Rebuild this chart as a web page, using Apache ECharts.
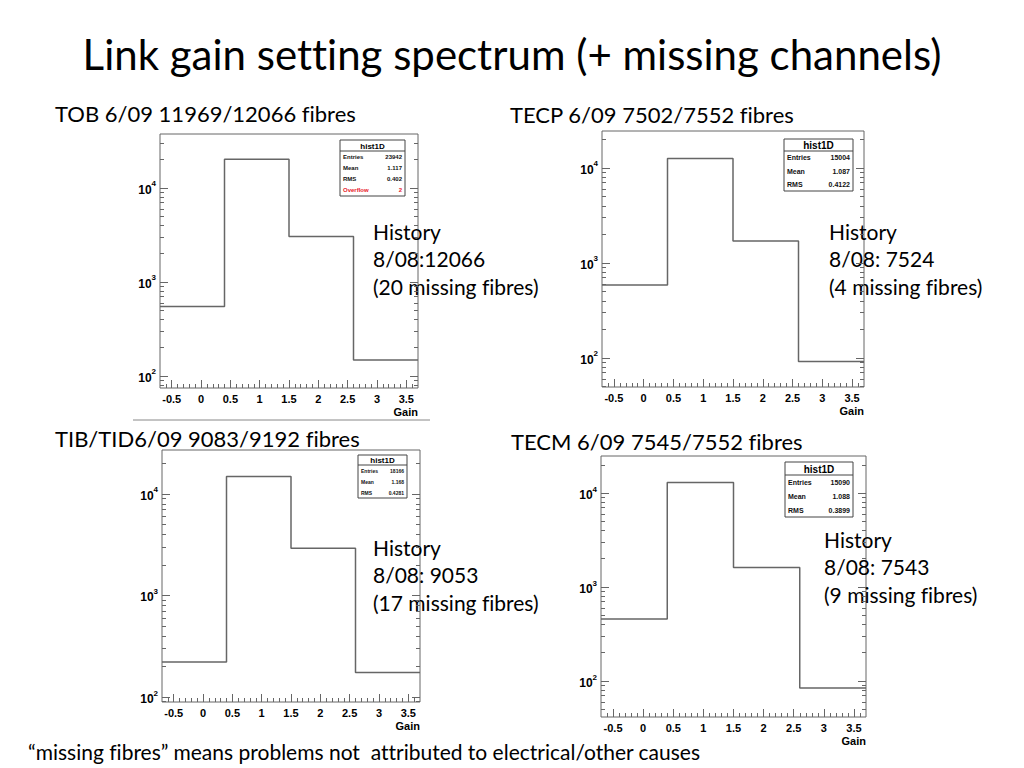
<!DOCTYPE html>
<html>
<head>
<meta charset="utf-8">
<title>Link gain setting spectrum</title>
<script src="https://cdn.jsdelivr.net/npm/echarts@6/dist/echarts.min.js"></script>
<style>
  html, body { margin: 0; padding: 0; background: #fff; }
  #chart { width: 1024px; height: 768px; font-variant-ligatures: none; }
  #chart text { font-variant-ligatures: none; }
</style>
</head>
<body>
<div id="chart"></div>
<script>
// histogram binning (Gain), last entry closes the last bin
var binEdges = [-0.7, 0.4, 1.5, 2.6, 3.7];
var gainLabels = [-0.5, 0, 0.5, 1, 1.5, 2, 2.5, 3, 3.5];
var decadeTicks = [100, 1000, 10000];

// counts per bin
var countsTOB = [550, 20190, 3055, 148];
var countsTECP = [588, 12616, 1708, 92];
var countsTIB = [221, 14846, 2925, 174];
var countsTECM = [458, 12931, 1617, 84];

var statsTOB = [['Entries', '23942'], ['Mean', '1.117'], ['RMS', '0.402'], ['Overflow', '2']];
var statsTECP = [['Entries', '15004'], ['Mean', '1.087'], ['RMS', '0.4122']];
var statsTIB = [['Entries', '18166'], ['Mean', '1.168'], ['RMS', '0.4281']];
var statsTECM = [['Entries', '15090'], ['Mean', '1.088'], ['RMS', '0.3899']];

var historyTOB = ['History', '8/08:12066', '(20 missing fibres)'];
var historyTECP = ['History', '8/08: 7524', '(4 missing fibres)'];
var historyTIB = ['History', '8/08: 9053', '(17 missing fibres)'];
var historyTECM = ['History', '8/08: 7543', '(9 missing fibres)'];

var slideTitle = 'Link gain setting spectrum (+ missing channels)';
var footNote = '\u201cmissing fibres\u201d means problems not  attributed to electrical/other causes';

// layout of the four pads
var pads = [
  { label: 'TOB 6/09 11969/12066 fibres', lx: 55, ly: 113, counts: countsTOB, stats: statsTOB, history: historyTOB,
    grid: { left: 160, top: 134, width: 258, height: 254 }, ymin: 74.5, ymax: 37500,
    hx: 373, hy: 231, box: { x: 340, y: 140, w: 65, h: 56, head: 11, hf: 8, rf: 6 } },
  { label: 'TECP 6/09 7502/7552 fibres', lx: 510, ly: 114, counts: countsTECP, stats: statsTECP, history: historyTECP,
    grid: { left: 602, top: 131, width: 262, height: 256 }, ymin: 49.5, ymax: 24500,
    hx: 829, hy: 231, box: { x: 784, y: 139, w: 69, h: 52, head: 12, hf: 10, rf: 7 } },
  { label: 'TIB/TID6/09 9083/9192 fibres', lx: 55, ly: 438, counts: countsTIB, stats: statsTIB, history: historyTIB,
    grid: { left: 162, top: 450, width: 258, height: 252 }, ymin: 89.3, ymax: 27100,
    hx: 373, hy: 547, box: { x: 358, y: 455, w: 49, h: 43, head: 10, hf: 8, rf: 5 } },
  { label: 'TECM 6/09 7545/7552 fibres', lx: 511, ly: 441, counts: countsTECM, stats: statsTECM, history: historyTECM,
    grid: { left: 601, top: 456, width: 265, height: 261 }, ymin: 41.4, ymax: 24800,
    hx: 824, hy: 539, box: { x: 785, y: 462, w: 68, h: 55, head: 13, hf: 10, rf: 7 } }
];

var frameColor = '#666';
var axisFont = 'Liberation Sans, Arial, sans-serif';
var slideFont = 'Lato, "Open Sans", sans-serif';

function minorGainTicks() {
  var out = [];
  for (var i = -6; i <= 36; i++) out.push(Math.round(i * 10) / 100);
  return out;
}
function minorLogTicks(lo, hi) {
  var out = [];
  for (var p = 10; p <= 100000; p *= 10) {
    for (var m = 2; m <= 9; m++) {
      var v = m * p;
      if (v > lo && v < hi) out.push(v);
    }
  }
  return out;
}
function powLabel(v) {
  return '{b|10}{s|' + Math.round(Math.log10(v)) + '}';
}

var grids = [], xAxes = [], yAxes = [], series = [], graphics = [];

pads.forEach(function (p, k) {
  grids.push({
    left: p.grid.left, top: p.grid.top, width: p.grid.width, height: p.grid.height,
    show: true, backgroundColor: '#fff', borderColor: frameColor, borderWidth: 1, containLabel: false
  });

  var xBase = { type: 'value', gridIndex: k, min: -0.7, max: 3.7, position: 'bottom',
    axisLine: { show: false, onZero: false }, splitLine: { show: false } };
  xAxes.push(Object.assign({}, xBase, {
    name: 'Gain', nameLocation: 'end', nameGap: 0,
    nameTextStyle: { align: 'right', verticalAlign: 'top', padding: [18, 0, 0, 0],
      fontFamily: axisFont, fontWeight: 'bold', fontSize: 11, color: '#000' },
    axisTick: { inside: true, length: 8, customValues: gainLabels, lineStyle: { color: frameColor } },
    axisLabel: { customValues: gainLabels, margin: 5, fontFamily: axisFont, fontWeight: 'bold',
      fontSize: 11, color: '#000' }
  }));
  xAxes.push(Object.assign({}, xBase, {
    axisTick: { inside: true, length: 4, customValues: minorGainTicks(), lineStyle: { color: frameColor } },
    axisLabel: { show: false }
  }));

  var minors = minorLogTicks(p.ymin, p.ymax);
  ['left', 'right'].forEach(function (side) {
    var yBase = { type: 'log', logBase: 10, gridIndex: k, min: p.ymin, max: p.ymax, position: side,
      axisLine: { show: false, onZero: false }, splitLine: { show: false } };
    yAxes.push(Object.assign({}, yBase, {
      axisTick: { inside: true, length: 8, customValues: decadeTicks, lineStyle: { color: frameColor } },
      axisLabel: side === 'left' ? {
        customValues: decadeTicks, margin: 4, formatter: powLabel,
        rich: {
          b: { fontFamily: axisFont, fontWeight: 'bold', fontSize: 12, color: '#000', lineHeight: 16, verticalAlign: 'bottom' },
          s: { fontFamily: axisFont, fontWeight: 'bold', fontSize: 8, color: '#000', lineHeight: 16, verticalAlign: 'top' }
        }
      } : { show: false }
    }));
    yAxes.push(Object.assign({}, yBase, {
      axisTick: { inside: true, length: 4, customValues: minors, lineStyle: { color: frameColor } },
      axisLabel: { show: false }
    }));
  });

  var pts = binEdges.map(function (e, i) {
    return [e, p.counts[Math.min(i, p.counts.length - 1)]];
  });
  series.push({
    type: 'line', step: 'end', xAxisIndex: k * 2, yAxisIndex: k * 4, data: pts,
    symbol: 'none', silent: true, lineStyle: { color: frameColor, width: 1.5 }
  });

  // pad caption
  graphics.push({ type: 'text', x: p.lx, y: p.ly, style: { text: p.label, fontFamily: slideFont,
    fontSize: 22, fill: '#000', verticalAlign: 'middle' } });
  // history note
  p.history.forEach(function (line, i) {
    graphics.push({ type: 'text', x: p.hx, y: p.hy + i * 27.5, style: { text: line, fontFamily: slideFont,
      fontSize: 21, fill: '#000', verticalAlign: 'middle' } });
  });

  // stats box
  var b = p.box;
  var kids = [
    { type: 'rect', shape: { x: 0, y: 0, width: b.w, height: b.h }, style: { fill: '#fff', stroke: '#444', lineWidth: 1 } },
    { type: 'line', shape: { x1: 0, y1: b.head, x2: b.w, y2: b.head }, style: { stroke: '#444', lineWidth: 1 } },
    { type: 'text', x: b.w / 2, y: b.head / 2 + 0.5, style: { text: 'hist1D', fontFamily: axisFont, fontWeight: 'bold',
      fontSize: b.hf, fill: '#000', align: 'center', verticalAlign: 'middle' } }
  ];
  var rowH = (b.h - b.head) / p.stats.length;
  p.stats.forEach(function (row, i) {
    var col = row[0] === 'Overflow' ? '#e8202a' : '#111';
    var yy = b.head + rowH * (i + 0.5);
    kids.push({ type: 'text', x: 3, y: yy, style: { text: row[0], fontFamily: axisFont, fontWeight: 'bold',
      fontSize: b.rf, fill: col, verticalAlign: 'middle' } });
    kids.push({ type: 'text', x: b.w - 3, y: yy, style: { text: row[1], fontFamily: axisFont, fontWeight: 'bold',
      fontSize: b.rf, fill: col, align: 'right', verticalAlign: 'middle' } });
  });
  graphics.push({ type: 'group', x: b.x, y: b.y, z: 100, children: kids });
});

graphics.push({ type: 'text', x: 512, y: 54, style: { text: slideTitle, fontFamily: slideFont, fontSize: 42,
  fill: '#000', align: 'center', verticalAlign: 'middle' } });
graphics.push({ type: 'text', x: 28, y: 751, style: { text: footNote, fontFamily: slideFont, fontSize: 21,
  fill: '#000', verticalAlign: 'middle' } });
graphics.push({ type: 'line', shape: { x1: 133, y1: 420, x2: 430, y2: 420 }, style: { stroke: '#888', lineWidth: 1 } });

var chart = echarts.init(document.getElementById('chart'), null, { renderer: 'svg' });
chart.setOption({
  animation: false,
  backgroundColor: '#fff',
  grid: grids,
  xAxis: xAxes,
  yAxis: yAxes,
  series: series,
  graphic: graphics
});
</script>
</body>
</html>
